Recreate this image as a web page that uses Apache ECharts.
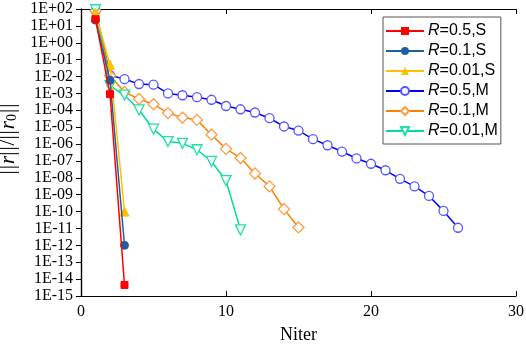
<!DOCTYPE html>
<html>
<head>
<meta charset="utf-8">
<script src="https://cdn.jsdelivr.net/npm/echarts@6/dist/echarts.min.js"></script>
<style>
  html, body { margin: 0; padding: 0; background: #fff; }
  #main { width: 526px; height: 347px; }
</style>
</head>
<body>
<div id="main"></div>
<script>
const names = ['R=0.5,S', 'R=0.1,S', 'R=0.01,S', 'R=0.5,M', 'R=0.1,M', 'R=0.01,M'];

const r05S = [25, 9e-4, 4.5e-15];
const r01S = [22, 6e-3, 1e-12];
const r001S = [60, 5e-2, 1e-10];
const r05M = [80, 1.2e-2, 7e-3, 3.6e-3, 3.3e-3, 1e-3, 7.8e-4, 6e-4, 4.2e-4, 1.8e-4,
  1.15e-4, 7.4e-5, 3.4e-5, 1.1e-5, 6.3e-6, 1.95e-6, 8.5e-7, 3.6e-7, 1.4e-7, 6.8e-8,
  2.8e-8, 8.7e-9, 3.1e-9, 8.5e-10, 1.1e-10, 1.1e-11];
const r01M = [80, 1.1e-2, 1.2e-3, 4.7e-4, 2.3e-4, 6.8e-5, 3.7e-5, 2.7e-5, 3.6e-6, 5.2e-7,
  1.5e-7, 1.8e-8, 3.1e-9, 1.4e-10, 1.15e-11];
const r001M = [90, 2.8e-3, 8e-4, 1.05e-4, 7.6e-6, 1.4e-6, 1.1e-6, 4.6e-7, 9.3e-8, 6.9e-9, 8.3e-12];

const toPairs = (arr) => arr.map((v, i) => [i + 1, v]);

const serif = 'Liberation Serif';
const sans = 'Liberation Sans';

function expLabel(value) {
  const e = Math.round(Math.log10(value));
  return '1E' + (e >= 0 ? '+' : '-') + String(Math.abs(e)).padStart(2, '0');
}

function line(name, data, color, symbol, size, filled, extra) {
  return Object.assign({
    name: name,
    type: 'line',
    data: toPairs(data),
    symbol: symbol,
    symbolSize: size,
    showAllSymbol: true,
    lineStyle: { color: color, width: 1.5 },
    itemStyle: filled
      ? { color: color, borderColor: color }
      : { color: '#fff', borderColor: color, borderWidth: 1.3 },
    emphasis: { disabled: true },
    animation: false,
  }, extra || {});
}

const chart = echarts.init(document.getElementById('main'));
chart.setOption({
  animation: false,
  grid: { left: 81, right: 10, top: 9, bottom: 51, outerBoundsMode: 'none', containLabel: false },
  legend: {
    data: names,
    orient: 'vertical',
    left: 383,
    top: 17,
    padding: [6, 3, 5, 2],
    itemGap: 4,
    itemWidth: 38,
    itemHeight: 10,
    backgroundColor: '#fff',
    borderColor: '#555',
    borderWidth: 1,
    borderRadius: 0,
    textStyle: {
      fontFamily: sans,
      fontSize: 16,
      color: '#000',
      padding: [0, 0, 0, -1],
      rich: { i: { fontStyle: 'italic', fontFamily: sans, fontSize: 16, color: '#000' } },
    },
    formatter: (n) => '{i|R}' + n.slice(1),
  },
  xAxis: [
    {
      type: 'value',
      min: 0, max: 30, interval: 10,
      name: 'Niter',
      nameLocation: 'middle',
      nameGap: 30,
      nameTextStyle: { fontFamily: serif, fontSize: 18, color: '#000' },
      axisLine: { lineStyle: { color: '#000', width: 1.2 } },
      axisTick: { inside: true, length: 5, lineStyle: { color: '#000' } },
      axisLabel: { fontFamily: serif, fontSize: 16, color: '#000', margin: 8 },
      splitLine: { show: false },
    },
    {
      type: 'value', position: 'top',
      min: 0, max: 30, interval: 10,
      axisLine: { show: true, lineStyle: { color: '#000', width: 1.2 } },
      axisTick: { inside: true, length: 5, lineStyle: { color: '#000' } },
      axisLabel: { show: false },
      splitLine: { show: false },
    },
  ],
  yAxis: [
    {
      type: 'log', logBase: 10,
      min: 1e-15, max: 1e2, interval: 1,
      name: '{b||}{b||}{i|r}{b||}{b||}/{b||}{b||}{i|r}{s|0}{b||}{b||}',
      nameLocation: 'middle',
      nameRotate: 90,
      nameGap: 58,
      nameTextStyle: {
        fontFamily: serif, fontSize: 21, color: '#000',
        padding: [0, 0, 0, 28],
        rich: {
          b: { fontFamily: serif, fontSize: 21, color: '#000', padding: [0, 1, 0, 0] },
          i: { fontFamily: serif, fontStyle: 'italic', fontSize: 21, color: '#000' },
          s: { fontFamily: serif, fontSize: 14, color: '#000', verticalAlign: 'bottom', padding: [7, 1, 0, 0] },
        },
      },
      axisLine: { show: true, lineStyle: { color: '#000', width: 1.2 } },
      axisTick: { show: true, inside: false, length: 5, lineStyle: { color: '#000' } },
      minorTick: { show: false },
      axisLabel: { fontFamily: serif, fontSize: 16, color: '#000', margin: 8, formatter: expLabel },
      splitLine: { show: false },
    },
    {
      type: 'log', logBase: 10, position: 'right',
      min: 1e-15, max: 1e2, interval: 1,
      axisLine: { show: true, lineStyle: { color: '#000', width: 1.2 } },
      axisTick: { show: true, inside: true, length: 5, lineStyle: { color: '#000' } },
      axisLabel: { show: false },
      splitLine: { show: false },
    },
  ],
  series: [
    line(names[0], r05S, '#ff0000', 'rect', 7, true, { z: 8 }),
    line(names[1], r01S, '#1f5f9f', 'circle', 8, true, { z: 7 }),
    line(names[2], r001S, '#ffc000', 'triangle', 9, true, { z: 6 }),
    line(names[3], r05M, '#0000ff', 'circle', 9, false, { z: 3, itemStyle: { color: '#fff', borderColor: '#5555ff', borderWidth: 1.3 } }),
    line(names[4], r01M, '#ff8000', 'diamond', 11, false, { z: 4, itemStyle: { color: '#fff', borderColor: '#ff9a40', borderWidth: 1.3 } }),
    line(names[5], r001M, '#00dca0', 'triangle', 10, false, { z: 5, symbolRotate: 180, itemStyle: { color: '#fff', borderColor: '#20e0a8', borderWidth: 1.3 } }),
  ],
});
</script>
</body>
</html>
